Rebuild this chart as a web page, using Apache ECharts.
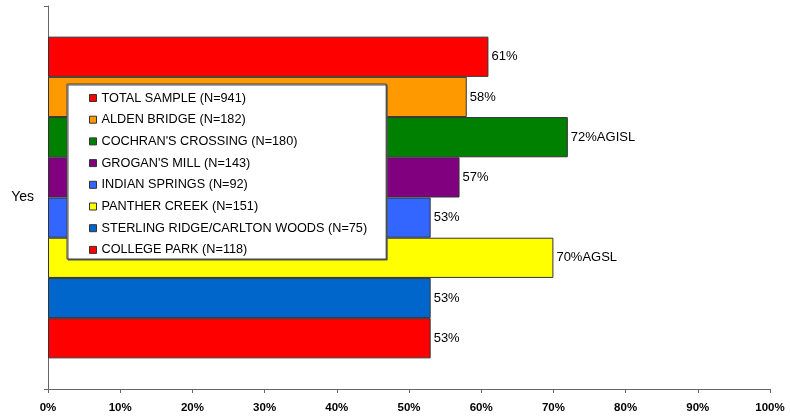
<!DOCTYPE html>
<html>
<head>
<meta charset="utf-8">
<script src="https://cdn.jsdelivr.net/npm/echarts@6/dist/echarts.min.js"></script>
<style>
  html, body { margin: 0; padding: 0; background: #fff; }
  #chart { width: 790px; height: 419px; }
</style>
</head>
<body>
<div id="chart"></div>
<script>
// Survey response share for "Yes", by village
const categories = ['Yes'];
const seriesNames = [
  'TOTAL SAMPLE (N=941)',
  'ALDEN BRIDGE (N=182)',
  "COCHRAN'S CROSSING (N=180)",
  "GROGAN'S MILL (N=143)",
  'INDIAN SPRINGS (N=92)',
  'PANTHER CREEK (N=151)',
  'STERLING RIDGE/CARLTON WOODS (N=75)',
  'COLLEGE PARK (N=118)'
];
const seriesValues = [61, 58, 72, 57, 53, 70, 53, 53];
const valueLabels = ['61%', '58%', '72%AGISL', '57%', '53%', '70%AGSL', '53%', '53%'];
const seriesColors = ['#FF0000', '#FF9900', '#008000', '#800080', '#3366FF', '#FFFF00', '#0066CC', '#FF0000'];
const tickLabels = ['0%', '10%', '20%', '30%', '40%', '50%', '60%', '70%', '80%', '90%', '100%'];

const FONT = 'Liberation Sans, Arial, sans-serif';
const chart = echarts.init(document.getElementById('chart'), null, { renderer: 'canvas' });

const series = seriesNames.map((name, i) => ({
  name: name,
  type: 'bar',
  data: [seriesValues[i]],
  barGap: '0%',
  barCategoryGap: '16%',
  itemStyle: { color: seriesColors[i], borderColor: '#333333', borderWidth: 1 },
  label: {
    show: true,
    position: 'right',
    distance: 3,
    formatter: () => valueLabels[i],
    fontFamily: FONT,
    fontSize: 13,
    color: '#000'
  },
  emphasis: { disabled: true },
  animation: false
}));

chart.setOption({
  animation: false,
  grid: { left: 48, right: 20, top: 6, bottom: 30, containLabel: false },
  legend: {
    orient: 'vertical',
    left: 67,
    top: 84,
    padding: [7.5, 19, 2.6, 22],
    itemGap: 8.7,
    itemWidth: 7,
    itemHeight: 7,
    icon: 'rect',
    backgroundColor: '#fff',
    borderColor: '#444444',
    borderWidth: 1,
    borderRadius: 0,
    shadowColor: '#555555',
    shadowOffsetX: 1,
    shadowOffsetY: 1,
    shadowBlur: 0.01,
    selectedMode: false,
    itemStyle: { borderColor: '#333333', borderWidth: 1 },
    textStyle: { fontFamily: FONT, fontSize: 12.7, color: '#000' },
    data: seriesNames
  },
  xAxis: {
    type: 'value',
    min: 0,
    max: 100,
    interval: 10,
    axisLine: { show: true, lineStyle: { color: '#666', width: 1 } },
    axisTick: { show: true, length: 4, lineStyle: { color: '#666' } },
    splitLine: { show: false },
    axisLabel: {
      margin: 13,
      formatter: (v) => tickLabels[Math.round(v / 10)],
      fontFamily: FONT,
      fontSize: 11.5,
      fontWeight: 'bold',
      color: '#000'
    }
  },
  yAxis: {
    type: 'category',
    data: categories,
    axisLine: { show: true, lineStyle: { color: '#666', width: 1 } },
    axisTick: { show: true, length: 4, lineStyle: { color: '#666' } },
    axisLabel: {
      margin: 14,
      fontFamily: FONT,
      fontSize: 14,
      color: '#000'
    }
  },
  series: series
});
</script>
</body>
</html>
